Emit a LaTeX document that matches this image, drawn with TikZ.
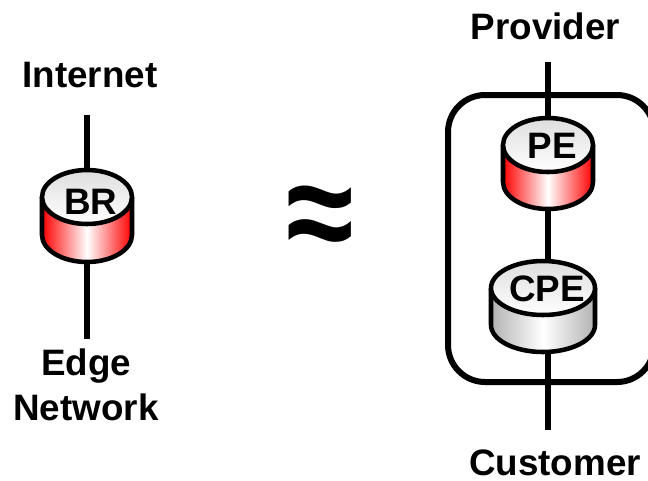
\documentclass[tikz,border=0pt]{standalone}
\usepackage{fontspec}
\setmainfont{Liberation Sans}
\definecolor{rimred}{RGB}{255,0,0}
\definecolor{rimgrey}{RGB}{178,178,178}
\definecolor{capgrey}{RGB}{222,222,222}
\newcommand{\drum}[7]{% name, cx, cy-top, rx, ry, height, colour
  \begin{scope}
    \clip (#2-#4,#3) -- ++(0,#6) arc[start angle=180,end angle=0,x radius=#4,y radius=#5] -- ++(0,-#6) -- cycle;
    \fill[left color=#7,right color=white] (#2-#4,#3-#5) rectangle (#2,#3+#6+#5);
    \fill[left color=white,right color=#7] (#2,#3-#5) rectangle (#2+#4,#3+#6+#5);
  \end{scope}
  \draw[drumline] (#2-#4,#3) -- ++(0,#6) arc[start angle=180,end angle=0,x radius=#4,y radius=#5] -- ++(0,-#6);
  \draw[drumline,top color=capgrey,bottom color=white,draw=black] (#2,#3) ellipse[x radius=#4,y radius=#5];
}
\tikzset{
  drumline/.style={line width=3.4pt,black},
  wire/.style={line width=4.5pt,black},
  lbl/.style={font=\fontsize{27.6pt}{33.75pt}\selectfont\bfseries,inner sep=0pt,align=center,text=black},
  hub/.style={lbl,fill=none}
}
\begin{document}
\begin{tikzpicture}[x=0.75pt,y=-0.75pt]
\useasboundingbox (0,0) rectangle (648,480);
\clip (0,0) rectangle (648,480);
% free wire ends
\coordinate (brup) at (87,115);
\coordinate (brdown) at (87,339);
\coordinate (peup) at (548,62);
\coordinate (cpedown) at (548,430);
\coordinate (brc) at (87,215);
\coordinate (pec) at (548,163);
\coordinate (cpec) at (548,306);
% enclosure
\draw[line width=4.5pt,rounded corners=27.8pt] (448,95) rectangle (654,382);
% wires
\draw[wire] (brup) -- (brc);
\draw[wire] (brc) -- (brdown);
\draw[wire] (peup) -- (pec);
\draw[wire] (pec) -- (cpec);
\draw[wire] (cpec) -- (cpedown);
% drums
\drum{br}{87}{197}{45}{27}{38}{rimred}
\drum{pe}{548}{145}{45}{27}{37}{rimred}
\drum{cpe}{543}{288}{52}{27}{37}{rimgrey}
% labels
\node[hub] (br) at (91,202) {BR};
\node[hub] (pe) at (552,146) {PE};
\node[hub] (cpe) at (547,289) {CPE};
\node[lbl] (internet) at (90,75) {Internet};
\node[lbl] (edge) at (86,385) {Edge\\Network};
\node[lbl] (provider) at (545.5,26) {Provider};
\node[lbl] (customer) at (555,462.5) {Customer};
\node[inner sep=0pt,font=\bfseries\fontsize{96pt}{96pt}\selectfont] (approx) at (320,224) {\scalebox{0.96}[1.12]{≈}};
\end{tikzpicture}
\end{document}
